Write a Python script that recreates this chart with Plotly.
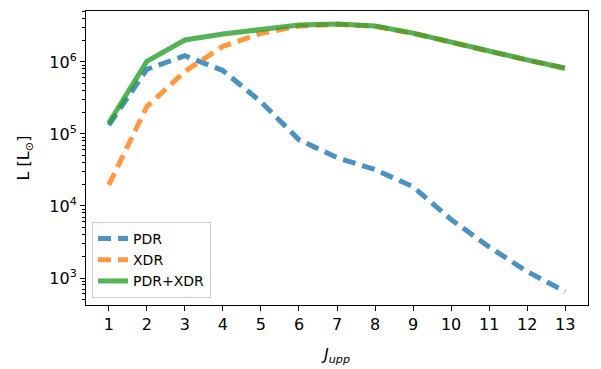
import plotly.graph_objects as go

J = [1, 2, 3, 4, 5, 6, 7, 8, 9, 10, 11, 12, 13]
pdr = [1.33e5, 7.9e5, 1.22e6, 7.6e5, 2.8e5, 8.3e4, 4.7e4, 3.2e4, 1.85e4, 6.5e3, 2.7e3, 1.23e3, 6.5e2]
xdr = [1.96e4, 2.4e5, 7.4e5, 1.65e6, 2.5e6, 3.15e6, 3.33e6, 3.13e6, 2.5e6, 1.87e6, 1.38e6, 1.06e6, 8.2e5]
tot = [1.42e5, 1.02e6, 2.02e6, 2.45e6, 2.82e6, 3.25e6, 3.38e6, 3.16e6, 2.52e6, 1.88e6, 1.39e6, 1.07e6, 8.2e5]
ytick_vals = [1e3, 1e4, 1e5, 1e6]
ytick_text = ["10<sup>3</sup>", "10<sup>4</sup>", "10<sup>5</sup>", "10<sup>6</sup>"]

minor_vals = [m * 10 ** k for k in range(2, 7) for m in range(2, 10)]

fig = go.Figure()
fig.add_trace(go.Scatter(x=J, y=pdr, mode="lines", name="PDR", opacity=0.8,
                         line=dict(color="#1f77b4", width=5, dash="13px,7px")))
fig.add_trace(go.Scatter(x=J, y=xdr, mode="lines", name="XDR", opacity=0.8,
                         line=dict(color="#ff7f0e", width=5, dash="13px,7px")))
fig.add_trace(go.Scatter(x=J, y=tot, mode="lines", name="PDR+XDR", opacity=0.8,
                         line=dict(color="#2ca02c", width=5)))

axis_common = dict(showline=True, linecolor="black", linewidth=1, mirror=True,
                   ticks="outside", ticklen=5, tickwidth=1, tickcolor="black",
                   showgrid=False, zeroline=False, automargin=False,
                   tickfont=dict(family="DejaVu Sans", size=16, color="black"))

fig.update_xaxes(range=[0.4, 13.6], tickmode="array", tickvals=J,
                 ticktext=[str(j) for j in J],
                 title=dict(text="<i>J<sub>upp</sub></i>",
                            font=dict(family="DejaVu Sans", size=16, color="black")),
                 **axis_common)
fig.update_yaxes(type="log", range=[2.625, 6.708], tickmode="array",
                 tickvals=ytick_vals, ticktext=ytick_text,
                 minor=dict(tickmode="array", tickvals=minor_vals, ticks="outside",
                            ticklen=3, tickwidth=1, tickcolor="black", showgrid=False),
                 title=dict(text="L [L<sub>⊙</sub>]",
                            font=dict(family="DejaVu Sans", size=16, color="black")),
                 **axis_common)

fig.update_layout(
    width=601, height=369,
    margin=dict(l=86, r=13, t=11, b=64),
    plot_bgcolor="white", paper_bgcolor="white",
    font=dict(family="DejaVu Sans", color="black"),
    showlegend=True,
    legend=dict(x=0.012, y=0.024, xanchor="left", yanchor="bottom",
                bgcolor="rgba(255,255,255,0.8)", bordercolor="#cccccc", borderwidth=1,
                font=dict(family="DejaVu Sans", size=14, color="black"),
                tracegroupgap=0, itemwidth=30),
)

fig.write_html("out.html", config={"displayModeBar": False},
               post_script="document.body.style.margin='0';document.body.style.padding='0';")
